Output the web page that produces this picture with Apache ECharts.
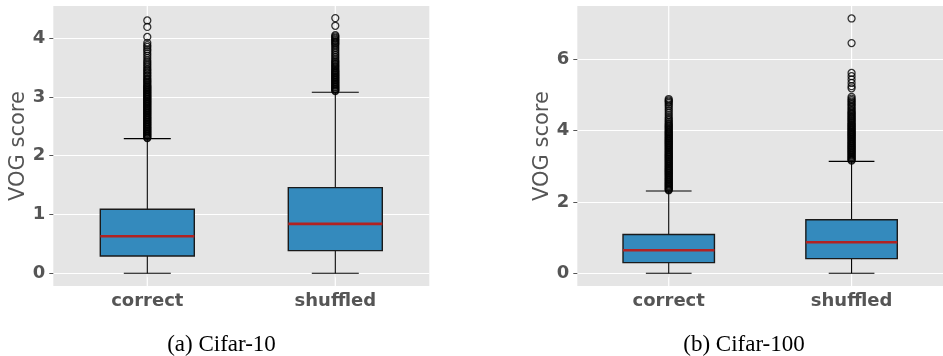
<!DOCTYPE html>
<html>
<head>
<meta charset="utf-8">
<script src="https://cdn.jsdelivr.net/npm/echarts@6/dist/echarts.min.js"></script>
<style>
html,body{margin:0;padding:0;background:#fff;}
#chart{width:943px;height:356px;}
</style>
</head>
<body>
<div id="chart"></div>
<script>
// ---- data ----
const categories = ['correct', 'shuffled'];
const captions = ['(a) Cifar-10', '(b) Cifar-100'];
const yTicksA = [0, 1, 2, 3, 4];
const yTicksB = [0, 2, 4, 6];
const yRangeA = [-0.2165, 4.546];
const yRangeB = [-0.357, 7.5];
// box stats: [min whisker, Q1, median, Q3, max whisker]
const c10Correct = [0, 0.295, 0.63, 1.09, 2.29];
const c10Shuffled = [0, 0.385, 0.84, 1.456, 3.08];
const c100Correct = [0, 0.30, 0.645, 1.09, 2.31];
const c100Shuffled = [0, 0.41, 0.87, 1.50, 3.14];
// outliers (fliers)
const c10CorrectOut = [2.30, 2.31, 2.33, 2.34, 2.36, 2.37, 2.39, 2.40, 2.42, 2.43, 2.45, 2.46, 2.48, 2.49, 2.51, 2.52,
  2.54, 2.55, 2.57, 2.58, 2.60, 2.61, 2.63, 2.64, 2.66, 2.67, 2.69, 2.70, 2.72, 2.73, 2.75, 2.76, 2.78, 2.79, 2.81,
  2.82, 2.84, 2.85, 2.87, 2.88, 2.90, 2.91, 2.93, 2.94, 2.96, 2.97, 2.99, 3.00, 3.02, 3.03, 3.05, 3.06, 3.08, 3.09,
  3.11, 3.12, 3.14, 3.15, 3.17, 3.18, 3.20, 3.22, 3.24, 3.26, 3.28, 3.30, 3.32, 3.35, 3.37, 3.40, 3.42, 3.45, 3.47,
  3.50, 3.53, 3.56, 3.59, 3.62, 3.66, 3.70, 3.74, 3.78, 3.81, 3.85, 3.88, 3.92, 4.02, 4.19, 4.30];
const c10ShuffledOut = [3.10, 3.11, 3.13, 3.14, 3.16, 3.17, 3.19, 3.20, 3.22, 3.23, 3.25, 3.26, 3.28, 3.29, 3.31, 3.32,
  3.34, 3.35, 3.37, 3.38, 3.40, 3.41, 3.43, 3.44, 3.46, 3.48, 3.50, 3.52, 3.54, 3.56, 3.58, 3.60, 3.62, 3.65, 3.68,
  3.71, 3.74, 3.77, 3.80, 3.83, 3.86, 3.89, 3.91, 3.93, 3.95, 3.97, 3.99, 4.01, 4.03, 4.05, 4.21, 4.34];
const c100CorrectOut = [2.33, 2.35, 2.37, 2.40, 2.42, 2.45, 2.47, 2.50, 2.52, 2.55, 2.57, 2.60, 2.62, 2.65, 2.67, 2.70,
  2.72, 2.75, 2.77, 2.80, 2.82, 2.85, 2.87, 2.90, 2.92, 2.95, 2.97, 3.00, 3.02, 3.05, 3.07, 3.10, 3.12, 3.15, 3.17,
  3.20, 3.22, 3.25, 3.27, 3.30, 3.32, 3.35, 3.37, 3.40, 3.42, 3.45, 3.47, 3.50, 3.52, 3.55, 3.57, 3.60, 3.62, 3.65,
  3.67, 3.70, 3.72, 3.75, 3.77, 3.80, 3.82, 3.85, 3.87, 3.90, 3.92, 3.95, 3.97, 4.00, 4.03, 4.06, 4.09, 4.12, 4.15,
  4.18, 4.21, 4.25, 4.29, 4.33, 4.38, 4.44, 4.50, 4.56, 4.62, 4.68, 4.73, 4.78, 4.82, 4.85, 4.89];
const c100ShuffledOut = [3.16, 3.18, 3.21, 3.23, 3.26, 3.28, 3.31, 3.33, 3.36, 3.38, 3.41, 3.43, 3.46, 3.48, 3.51, 3.53,
  3.56, 3.58, 3.61, 3.63, 3.66, 3.68, 3.71, 3.73, 3.76, 3.78, 3.81, 3.83, 3.86, 3.88, 3.91, 3.93, 3.96, 3.98, 4.01,
  4.03, 4.06, 4.08, 4.11, 4.13, 4.16, 4.18, 4.21, 4.24, 4.27, 4.30, 4.33, 4.36, 4.39, 4.42, 4.45, 4.48, 4.51, 4.54,
  4.58, 4.62, 4.66, 4.70, 4.74, 4.78, 4.82, 4.86, 4.90, 4.95, 5.19, 5.25, 5.34, 5.44, 5.53, 5.62, 6.46, 7.15];

// ---- build ----
const TXT = '#555555';
const boxA = [[1].concat(c10Correct), [2].concat(c10Shuffled)];
const boxB = [[1].concat(c100Correct), [2].concat(c100Shuffled)];
function outPoints(x, arr) { return arr.map(v => [x, v]); }

function renderBox(params, api) {
  const x = api.value(0);
  const mn = api.coord([x, api.value(1)]);
  const q1 = api.coord([x, api.value(2)]);
  const md = api.coord([x, api.value(3)]);
  const q3 = api.coord([x, api.value(4)]);
  const mx = api.coord([x, api.value(5)]);
  const bw = api.size([0.5, 0])[0];
  const cw = api.size([0.25, 0])[0];
  const cs = params.coordSys;
  const cx = mn[0];
  const blk = {stroke: '#000', lineWidth: 1.1};
  return {
    type: 'group',
    children: [
      {type: 'line', shape: {x1: cx, y1: cs.y, x2: cx, y2: cs.y + cs.height}, style: {stroke: '#fff', lineWidth: 1.2}},
      {type: 'line', shape: {x1: cx, y1: mn[1], x2: cx, y2: q1[1]}, style: blk},
      {type: 'line', shape: {x1: cx, y1: q3[1], x2: cx, y2: mx[1]}, style: blk},
      {type: 'line', shape: {x1: cx - cw / 2, y1: mn[1], x2: cx + cw / 2, y2: mn[1]}, style: blk},
      {type: 'line', shape: {x1: cx - cw / 2, y1: mx[1], x2: cx + cw / 2, y2: mx[1]}, style: blk},
      {type: 'rect', shape: {x: cx - bw / 2, y: q3[1], width: bw, height: q1[1] - q3[1]},
        style: {fill: '#348ABD', stroke: '#1a1a1a', lineWidth: 1.4}},
      {type: 'line', shape: {x1: cx - bw / 2, y1: md[1], x2: cx + bw / 2, y2: md[1]},
        style: {stroke: '#B22222', lineWidth: 2.6}}
    ]
  };
}

function xAxisDef(gi) {
  return {
    type: 'value', gridIndex: gi, min: 0.5, max: 2.5, interval: 0.5,
    axisLine: {show: false},
    splitLine: {show: false},
    axisTick: {show: true, length: 4, customValues: [1, 2], lineStyle: {color: TXT, width: 1}},
    axisLabel: {
      customValues: [1, 2], margin: 6,
      formatter: v => (v === 1 || v === 2) ? categories[v - 1] : '',
      fontFamily: 'DejaVu Sans', fontWeight: 'bold', fontSize: 18, color: TXT
    }
  };
}
function yAxisDef(gi, range, ticks) {
  return {
    type: 'value', gridIndex: gi, min: range[0], max: range[1],
    name: 'VOG score', nameLocation: 'middle', nameGap: 24, nameRotate: 90,
    nameTextStyle: {fontFamily: 'DejaVu Sans', fontSize: 21, color: TXT},
    axisLine: {show: false},
    axisTick: {show: true, length: 4, customValues: ticks, lineStyle: {color: TXT, width: 1}},
    axisLabel: {
      customValues: ticks, margin: 8, showMinLabel: true, showMaxLabel: true,
      fontFamily: 'DejaVu Sans', fontWeight: 'bold', fontSize: 18, color: TXT
    },
    splitLine: {show: true, lineStyle: {color: '#fff', width: 1.2}}
  };
}
function fliers(gi, data) {
  return {
    type: 'scatter', xAxisIndex: gi, yAxisIndex: gi, data: data, z: 5,
    symbol: 'circle', symbolSize: 7,
    itemStyle: {color: 'rgba(0,0,0,0)', borderColor: '#000', borderWidth: 1.25},
    silent: true, animation: false
  };
}

const chart = echarts.init(document.getElementById('chart'), null, {renderer: 'canvas'});
chart.setOption({
  animation: false,
  backgroundColor: '#ffffff',
  grid: [
    {left: 53.3, top: 6, width: 376, height: 280, show: true, backgroundColor: '#E5E5E5', borderWidth: 0},
    {left: 577.3, top: 6, width: 376, height: 280, show: true, backgroundColor: '#E5E5E5', borderWidth: 0}
  ],
  xAxis: [xAxisDef(0), xAxisDef(1)],
  yAxis: [yAxisDef(0, yRangeA, yTicksA), yAxisDef(1, yRangeB, yTicksB)],
  graphic: [
    {type: 'text', style: {text: captions[0], fontFamily: 'Liberation Serif', fontSize: 23, fill: '#000', textAlign: 'center', textVerticalAlign: 'middle', x: 221.5, y: 345}},
    {type: 'text', style: {text: captions[1], fontFamily: 'Liberation Serif', fontSize: 23, fill: '#000', textAlign: 'center', textVerticalAlign: 'middle', x: 744, y: 345}}
  ],
  series: [
    {type: 'custom', xAxisIndex: 0, yAxisIndex: 0, data: boxA, renderItem: renderBox, encode: {x: 0, y: [1, 2, 3, 4, 5]}, z: 2},
    {type: 'custom', xAxisIndex: 1, yAxisIndex: 1, data: boxB, renderItem: renderBox, encode: {x: 0, y: [1, 2, 3, 4, 5]}, z: 2},
    fliers(0, outPoints(1, c10CorrectOut).concat(outPoints(2, c10ShuffledOut))),
    fliers(1, outPoints(1, c100CorrectOut).concat(outPoints(2, c100ShuffledOut)))
  ]
});
</script>
</body>
</html>
